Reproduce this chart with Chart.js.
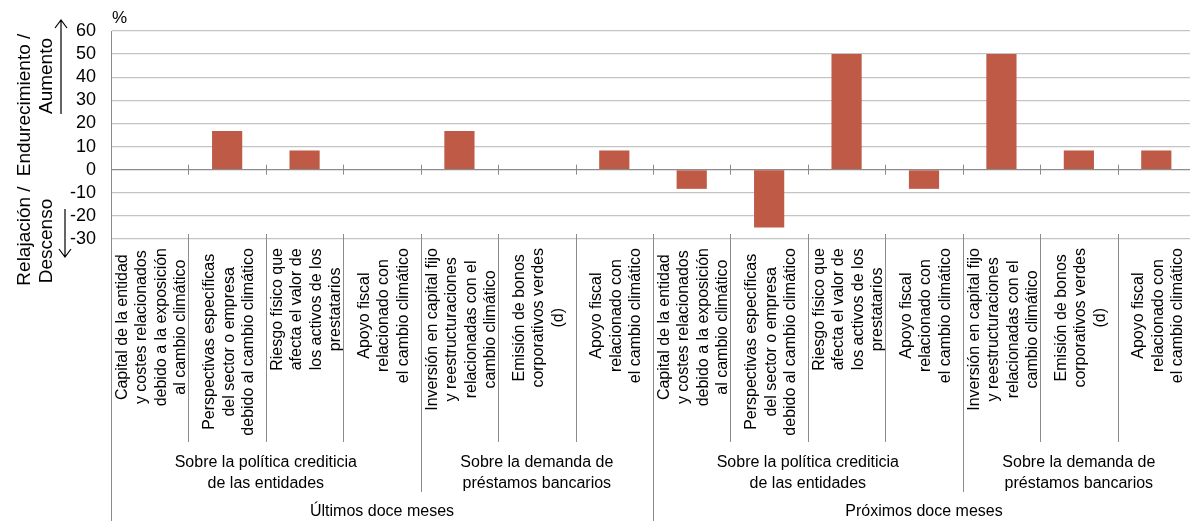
<!DOCTYPE html>
<html>
<head>
<meta charset="utf-8">
<script src="https://cdn.jsdelivr.net/npm/chart.js@4.4.0/dist/chart.umd.min.js"></script>
<style>
html, body { margin: 0; padding: 0; background: #fff; overflow: hidden; }
</style>
</head>
<body>
<canvas id="chart" width="1196" height="521"></canvas>
<script>
// etiquetas de categoría (líneas del texto girado)
const categories = [
    ['Capital de la entidad', 'y costes relacionados', 'debido a la exposición', 'al cambio climático'],
    ['Perspectivas específicas', 'del sector o empresa', 'debido al cambio climático'],
    ['Riesgo físico que', 'afecta el valor de', 'los activos de los', 'prestatarios'],
    ['Apoyo fiscal', 'relacionado con', 'el cambio climático'],
    ['Inversión en capital fijo', 'y reestructuraciones', 'relacionadas con el', 'cambio climático'],
    ['Emisión de bonos', 'corporativos verdes', '(d)'],
    ['Apoyo fiscal', 'relacionado con', 'el cambio climático'],
    ['Capital de la entidad', 'y costes relacionados', 'debido a la exposición', 'al cambio climático'],
    ['Perspectivas específicas', 'del sector o empresa', 'debido al cambio climático'],
    ['Riesgo físico que', 'afecta el valor de', 'los activos de los', 'prestatarios'],
    ['Apoyo fiscal', 'relacionado con', 'el cambio climático'],
    ['Inversión en capital fijo', 'y reestructuraciones', 'relacionadas con el', 'cambio climático'],
    ['Emisión de bonos', 'corporativos verdes', '(d)'],
    ['Apoyo fiscal', 'relacionado con', 'el cambio climático'],
];
const values = [0, 16.7, 8.3, 0, 16.7, 0, 8.3, -8.3, -25, 50, -8.3, 50, 8.3, 8.3];

const yMin = -30;
const yMax = 60;
const yStep = 10;

const groupLabels = [
    ['Sobre la política crediticia', 'de las entidades'],
    ['Sobre la demanda de', 'préstamos bancarios'],
    ['Sobre la política crediticia', 'de las entidades'],
    ['Sobre la demanda de', 'préstamos bancarios'],
];
const groupSizes = [4, 3, 4, 3];

const periodLabels = ['Últimos doce meses', 'Próximos doce meses'];
const periodSizes = [7, 7];

const FONT = '"Liberation Sans", Arial, sans-serif';
const NARROW = '"Liberation Sans Narrow", "Liberation Sans", Arial, sans-serif';

// dibuja todo lo que Chart.js no hace: etiquetas giradas, grupos, flechas
const extrasPlugin = {
    id: 'extras',
    afterDraw(chart) {
        const ctx = chart.ctx;
        const x = chart.scales.x;
        const area = chart.chartArea;
        const zeroY = chart.scales.y.getPixelForValue(0);
        const n = categories.length;
        const bound = i => {
            if (i <= 0) return area.left;
            if (i >= n) return area.right;
            return (x.getPixelForValue(i - 1) + x.getPixelForValue(i)) / 2;
        };

        ctx.save();
        ctx.strokeStyle = '#8c8c8c';
        ctx.lineWidth = 1;

        // marcas en la línea del cero
        for (let i = 1; i < n; i++) {
            const bx = Math.round(bound(i)) + 0.5;
            ctx.beginPath();
            ctx.moveTo(bx, zeroY - 5);
            ctx.lineTo(bx, zeroY + 5);
            ctx.stroke();
        }

        // separadores bajo el gráfico
        const groupEnds = [];
        let acc = 0;
        groupSizes.forEach(s => { acc += s; groupEnds.push(acc); });
        const periodEnds = [];
        acc = 0;
        periodSizes.forEach(s => { acc += s; periodEnds.push(acc); });

        for (let i = 0; i <= n; i++) {
            let bottom = 442;
            if (i === 0 || periodEnds.includes(i)) bottom = 521;
            else if (groupEnds.includes(i)) bottom = 492;
            const bx = Math.round(bound(i)) + 0.5;
            ctx.beginPath();
            ctx.moveTo(bx, area.bottom - 5);
            ctx.lineTo(bx, bottom);
            ctx.stroke();
        }

        // etiquetas de categoría giradas
        ctx.fillStyle = '#000';
        ctx.font = '16px ' + FONT;
        ctx.textAlign = 'center';
        ctx.textBaseline = 'middle';
        categories.forEach((lines, i) => {
            const cx = x.getPixelForValue(i) + 2;
            const maxW = Math.max(...lines.map(l => ctx.measureText(l).width));
            const cy = 248 + maxW / 2;
            const lh = 19.5;
            lines.forEach((line, k) => {
                const lx = cx + (k - (lines.length - 1) / 2) * lh;
                ctx.save();
                ctx.translate(lx, cy);
                ctx.rotate(-Math.PI / 2);
                ctx.fillText(line, 0, 0);
                ctx.restore();
            });
        });

        // etiquetas de grupo
        ctx.font = '16px ' + NARROW;
        let start = 0;
        groupLabels.forEach((lines, g) => {
            const end = start + groupSizes[g];
            const cx = (bound(start) + bound(end)) / 2;
            lines.forEach((line, k) => ctx.fillText(line, cx, 463 + k * 21));
            start = end;
        });

        start = 0;
        periodLabels.forEach((label, p) => {
            const end = start + periodSizes[p];
            const cx = (bound(start) + bound(end)) / 2;
            ctx.fillText(label, cx, 512);
            start = end;
        });

        // unidad
        ctx.font = '17px ' + FONT;
        ctx.textAlign = 'left';
        ctx.fillText('%', area.left + 1, 18);

        // títulos del eje y con flechas
        ctx.font = '19px ' + FONT;
        ctx.textAlign = 'center';
        const vText = (t, tx, ty) => {
            ctx.save();
            ctx.translate(tx, ty);
            ctx.rotate(-Math.PI / 2);
            ctx.fillText(t, 0, 0);
            ctx.restore();
        };
        vText('Endurecimiento /', 25, 105);
        vText('Aumento', 47, 76);
        vText('Relajación /', 25, 236);
        vText('Descenso', 47, 241);

        ctx.strokeStyle = '#000';
        ctx.lineWidth = 1.2;
        ctx.beginPath();
        ctx.moveTo(61, 114); ctx.lineTo(61, 20);
        ctx.moveTo(55, 28); ctx.lineTo(61, 20); ctx.lineTo(67, 28);
        ctx.moveTo(65, 209); ctx.lineTo(65, 257);
        ctx.moveTo(59, 249); ctx.lineTo(65, 257); ctx.lineTo(71, 249);
        ctx.stroke();
        ctx.restore();
    }
};

new Chart(document.getElementById('chart').getContext('2d'), {
    type: 'bar',
    data: {
        labels: categories.map(c => c.join(' ')),
        datasets: [{
            data: values,
            backgroundColor: '#BE5A46',
            borderWidth: 0,
            barPercentage: 0.39,
            categoryPercentage: 1,
        }]
    },
    options: {
        responsive: false,
        animation: false,
        layout: { padding: { top: 31, bottom: 282, left: 0, right: 1 } },
        plugins: {
            legend: { display: false },
            tooltip: { enabled: false }
        },
        scales: {
            x: { display: false },
            y: {
                min: yMin,
                max: yMax,
                afterFit: s => { s.width = 111; },
                ticks: {
                    stepSize: yStep,
                    autoSkip: false,
                    color: '#000',
                    padding: 15,
                    font: { size: 18, family: FONT }
                },
                grid: {
                    drawTicks: false,
                    color: c => c.tick && c.tick.value === 0 ? '#8c8c8c' : '#c4c4c4',
                    lineWidth: 1.3
                },
                border: { color: '#8c8c8c', width: 1 }
            }
        }
    },
    plugins: [extrasPlugin]
});
</script>
</body>
</html>
